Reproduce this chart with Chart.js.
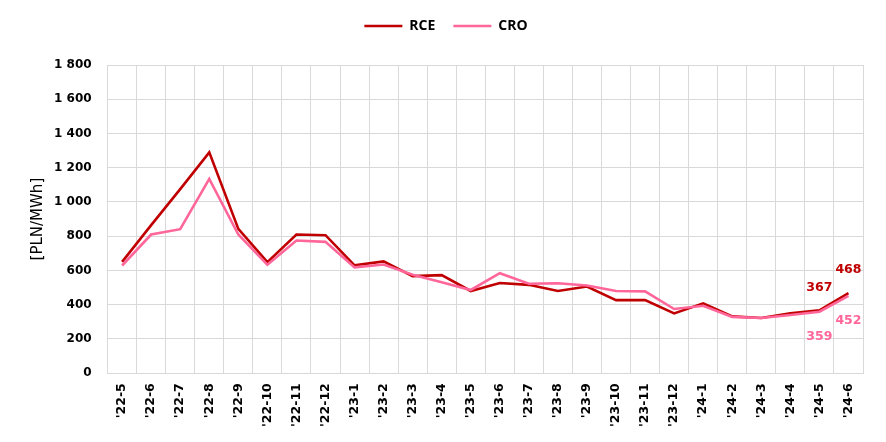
<!DOCTYPE html>
<html>
<head>
<meta charset="utf-8">
<script src="https://cdn.jsdelivr.net/npm/chart.js@4"></script>
<style>
    html, body { margin: 0; padding: 0; background: #fff; }
    #wrap { width: 886px; height: 442px; }
</style>
</head>
<body>
<div id="wrap"><canvas id="priceChart" width="886" height="442"></canvas></div>
<script>
const months = ["'22-5", "'22-6", "'22-7", "'22-8", "'22-9", "'22-10", "'22-11", "'22-12",
    "'23-1", "'23-2", "'23-3", "'23-4", "'23-5", "'23-6", "'23-7", "'23-8", "'23-9", "'23-10", "'23-11", "'23-12",
    "'24-1", "'24-2", "'24-3", "'24-4", "'24-5", "'24-6"];
const rceValues = [650, 865, 1075, 1290, 843, 649, 810, 806, 630, 653, 567, 573, 480, 527, 516, 480, 506, 427, 427, 349, 408, 332, 322, 350, 367, 468];
const croValues = [629, 810, 841, 1135, 810, 633, 775, 767, 618, 635, 575, 531, 486, 584, 522, 525, 512, 480, 478, 375, 394, 329, 322, 340, 359, 452];
const labelledIdx = [24, 25]; // last two months get value labels

const RCE_COLOR = '#C00000';
const CRO_COLOR = '#FF6699';

function formatThousands(v) {
    return String(v).replace(/\B(?=(\d{3})+(?!\d))/g, ' ');
}

// extra room under the legend
const legendGap = {
    id: 'legendGap',
    beforeInit(chart) {
        const origFit = chart.legend.fit;
        chart.legend.fit = function () {
            origFit.bind(chart.legend)();
            this.height += 22;
        };
    }
};

// value labels above RCE, below CRO, for the last points
const endLabels = {
    id: 'endLabels',
    afterDatasetsDraw(chart) {
        const ctx = chart.ctx;
        ctx.save();
        ctx.font = 'bold 12.5px "DejaVu Sans"';
        ctx.textAlign = 'center';
        ctx.textBaseline = 'middle';
        chart.data.datasets.forEach((ds, di) => {
            const meta = chart.getDatasetMeta(di);
            labelledIdx.forEach(i => {
                const pt = meta.data[i];
                const dy = ds.label === 'RCE' ? -23 : 25;
                ctx.fillStyle = ds.borderColor;
                ctx.fillText(String(ds.data[i]), pt.x, pt.y + dy);
            });
        });
        ctx.restore();
    }
};

new Chart(document.getElementById('priceChart').getContext('2d'), {
    type: 'line',
    data: {
        labels: months,
        datasets: [
            {
                label: 'RCE',
                data: rceValues,
                borderColor: RCE_COLOR,
                backgroundColor: RCE_COLOR,
                borderWidth: 2.6,
                pointRadius: 0,
                tension: 0,
                order: 1
            },
            {
                label: 'CRO',
                data: croValues,
                borderColor: CRO_COLOR,
                backgroundColor: CRO_COLOR,
                borderWidth: 2.6,
                pointRadius: 0,
                tension: 0,
                order: 0
            }
        ]
    },
    options: {
        responsive: false,
        animation: false,
        layout: { padding: { top: 1, right: 23, bottom: 5, left: 29 } },
        plugins: {
            tooltip: { enabled: false },
            legend: {
                position: 'top',
                labels: {
                    usePointStyle: true,
                    pointStyle: 'line',
                    pointStyleWidth: 38,
                    boxWidth: 38,
                    padding: 18,
                    color: '#000',
                    font: { family: '"Open Sans"', size: 14, weight: 'bold' },
                    sort: (a, b) => a.datasetIndex - b.datasetIndex
                }
            }
        },
        scales: {
            x: {
                offset: true,
                grid: { offset: true, color: '#d9d9d9', drawTicks: false },
                border: { color: '#d9d9d9' },
                ticks: {
                    autoSkip: false,
                    maxRotation: 90,
                    minRotation: 90,
                    padding: 10,
                    color: '#000',
                    font: { family: '"DejaVu Sans"', size: 12.5, weight: 'bold' }
                }
            },
            y: {
                min: 0,
                max: 1800,
                grid: { color: '#d9d9d9', drawTicks: false },
                border: { color: '#d9d9d9' },
                ticks: {
                    stepSize: 200,
                    padding: 16,
                    color: '#000',
                    font: { family: '"DejaVu Sans"', size: 12, weight: 'bold' },
                    callback: v => formatThousands(v)
                },
                title: {
                    display: true,
                    text: '[PLN/MWh]',
                    color: '#000',
                    padding: { top: 0, bottom: -9 },
                    font: { family: '"DejaVu Sans"', size: 15 }
                }
            }
        }
    },
    plugins: [legendGap, endLabels]
});
</script>
</body>
</html>
